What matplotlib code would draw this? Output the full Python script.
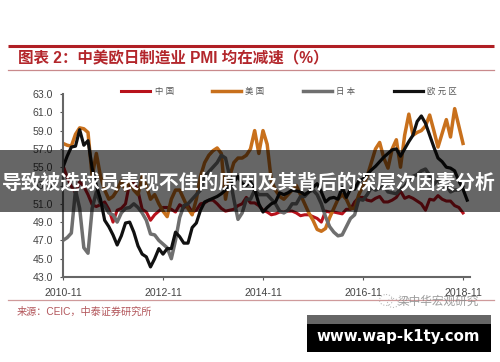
import numpy as np
import matplotlib
matplotlib.use('Agg')
import matplotlib.pyplot as plt
from matplotlib.patches import Rectangle, Ellipse

plt.rcParams['font.family'] = ['Liberation Sans', 'Noto Sans CJK SC', 'DejaVu Sans']

# monthly PMI, 2010-11 onward
china = [55.2,53.9,52.9,52.2,53.4,52.9,52.0,50.9,50.7,50.9,51.2,50.4,49.0,
         50.3,50.5,51.0,53.3,53.3,52.4,50.4,50.1,49.2,49.8,50.2,50.6,
         50.6,50.4,50.1,50.9,50.6,50.8,50.1,50.3,51.0,51.1,51.4,51.4,
         51.0,50.5,50.2,50.3,50.4,50.8,51.0,51.7,51.1,51.1,50.8,50.3,
         50.1,49.8,49.9,50.1,50.1,50.2,50.2,50.0,49.7,49.8,49.8,49.6,
         49.4,49.0,50.2,50.1,50.1,50.0,49.9,50.4,50.4,51.2,51.7,51.7,
         51.4,51.3,51.6,51.8,51.2,51.2,51.4,51.7,52.4,51.6,51.8,51.6,
         51.3,51.0,50.3,51.5,51.4,51.9,51.5,51.3,51.3,50.8,50.6,50.0]
usa = [57.6,57.4,57.3,58.6,59.3,59.2,58.8,54.0,56.5,54.0,52.5,51.5,51.8,
       52.5,53.5,52.5,53.5,52.5,52.0,54.0,53.0,51.5,52.0,51.0,50.2,
       49.6,51.5,52.5,52.5,51.5,50.5,49.8,51.5,54.0,55.5,56.3,56.8,
       57.1,56.5,51.5,54.0,55.5,56.0,56.0,56.3,57.0,59.0,56.5,59.0,
       57.5,53.5,52.5,51.8,51.5,52.0,52.5,53.0,52.0,51.0,50.0,49.2,
       48.2,48.0,48.3,49.5,50.5,51.5,52.0,51.5,50.5,50.5,52.0,53.0,
       54.0,55.5,57.0,57.7,56.0,54.9,57.0,58.0,55.0,58.5,60.8,58.5,
       58.8,59.0,59.5,60.7,59.0,57.2,58.7,60.2,58.3,61.4,59.5,57.6]
japan = [47.0,47.3,47.8,52.5,50.5,46.2,45.6,50.5,52.3,51.0,50.8,50.0,49.8,
         49.0,50.0,50.5,50.6,51.0,50.6,50.0,49.2,47.7,47.6,47.0,46.6,
         46.2,45.0,47.0,49.5,50.8,51.0,51.5,52.0,52.5,54.0,54.5,55.0,
         55.5,56.3,56.0,54.0,51.5,49.3,50.0,51.5,51.5,52.5,52.0,52.0,
         52.0,51.5,51.0,50.2,50.0,50.3,51.0,51.0,51.8,51.8,52.3,52.5,
         52.0,51.0,49.6,48.5,47.9,47.5,47.6,48.5,49.4,49.8,51.5,51.4,
         52.0,52.8,52.5,52.7,53.0,52.3,52.2,52.1,52.6,52.9,53.6,54.0,
         54.2,54.6,54.8,54.1,53.1,53.7,52.8,53.0,52.3,52.5,52.5,52.9]
euro = [55.0,56.2,57.2,57.3,59.1,57.4,57.9,54.9,53.0,51.5,49.2,48.5,47.6,
        46.5,47.5,48.9,49.0,47.9,46.4,45.5,45.2,44.1,45.0,46.1,45.5,
        46.1,46.1,47.9,47.4,46.7,46.7,48.4,48.9,50.3,51.2,51.4,51.6,
        51.8,52.1,52.5,53.0,53.4,54.0,53.2,53.0,53.4,52.6,51.0,50.1,
        50.6,51.0,51.2,52.2,52.0,52.2,52.5,52.4,52.3,52.0,52.3,52.8,
        53.2,52.3,51.2,51.6,51.7,51.5,52.8,51.7,52.6,52.6,53.5,53.7,
        54.2,54.7,55.1,55.6,56.1,56.5,56.9,57.0,56.2,57.0,57.8,58.5,
        60.0,60.6,59.8,58.5,57.2,56.0,55.6,55.0,54.9,54.6,53.5,52.6,51.4]

x_ticks = [0, 24, 48, 72, 96]
x_labels = ['2010-11', '2012-11', '2014-11', '2016-11', '2018-11']
y_ticks = [43, 45, 47, 49, 51, 53, 55, 57, 59, 61, 63]

fig = plt.figure(figsize=(5, 3.62), dpi=100, facecolor='white')
ax = fig.add_axes([63/500, 1-277/362, (470-63)/500, (277-94)/362])

ax.plot(np.arange(len(china)), china, color='#b8121c', lw=2.2, label='中 国')
ax.plot(np.arange(len(usa)), usa, color='#c8701c', lw=2.5, label='美 国')
ax.plot(np.arange(len(japan)), japan, color='#6f6f6f', lw=2.5, label='日 本')
ax.plot(np.arange(len(euro)), euro, color='#111111', lw=2.3, label='欧 元 区')

ax.set_xlim(0, (470-63)/(100/24))
ax.set_ylim(43, 63)
ax.set_xticks(x_ticks)
ax.set_xticklabels(x_labels, fontsize=7.6, color='#444444')
ax.set_yticks(y_ticks)
ax.set_yticklabels(['%.1f' % v for v in y_ticks], fontsize=7.6, color='#444444')
ax.tick_params(axis='x', length=2, width=0.8, color='#555555', pad=6)
ax.tick_params(axis='y', length=2, width=0.8, color='#555555', pad=5)
ax.spines['top'].set_visible(False)
ax.spines['right'].set_visible(False)
for s in ['left', 'bottom']:
    ax.spines[s].set_color('#666666')
    ax.spines[s].set_linewidth(1.5)

fig.legend(loc='center', bbox_to_anchor=(289/500, 1-92/362), ncol=4, frameon=False,
           fontsize=6, handlelength=3.5, handletextpad=0.5, columnspacing=4.6,
           borderpad=0, labelcolor='#555555')

# page furniture in pixel coordinates
over = fig.add_axes([0, 0, 1, 1], zorder=5)
over.set_xlim(0, 500)
over.set_ylim(362, 0)
over.axis('off')
over.patch.set_alpha(0)

over.plot([8, 494], [45.5, 45.5], color='#b01f24', lw=2.2, solid_capstyle='butt')
over.plot([8, 494], [70, 70], color='#c98a8c', lw=0.9)
over.plot([8, 494], [300, 300], color='#cf9a9b', lw=0.9)
over.text(18, 59, '图表 2：中美欧日制造业 PMI 均在减速（%）', fontsize=11.2, fontweight='bold',
          color='#b3262b', va='center', ha='left')
over.text(17, 312, '来源：CEIC，中泰证券研究所', fontsize=7.3, color='#b2555a', va='center', ha='left')

# watermark
over.add_patch(Ellipse((386, 300), 13, 11, fill=False, ec='#bbbbbb', lw=0.8, ls=':'))
over.add_patch(Ellipse((393, 303), 11, 9, fill=False, ec='#bbbbbb', lw=0.8, ls=':'))
over.text(398, 302, '梁中华宏观研究', fontsize=8.4, color='#8a8a8a', alpha=0.85, va='center', ha='left')

# dark banner over the plot
over.add_patch(Rectangle((0, 150), 500, 62, fc='black', alpha=0.6, ec='none'))
over.text(248.5, 183, '导致被选球员表现不佳的原因及其背后的深层次因素分析', fontsize=14.2, fontweight='bold',
          color='white', va='center', ha='center')

# site box
over.add_patch(Rectangle((307, 315), 184, 9, fc='#666666', ec='none'))
over.add_patch(Rectangle((307, 324), 184, 28, fc='black', ec='none'))
over.text(398.5, 337, 'www.wap-k1ty.com', fontsize=10.8, fontweight='bold', color='white',
          va='center', ha='center', family=['DejaVu Sans'])

fig.savefig('out.png', dpi=100)
